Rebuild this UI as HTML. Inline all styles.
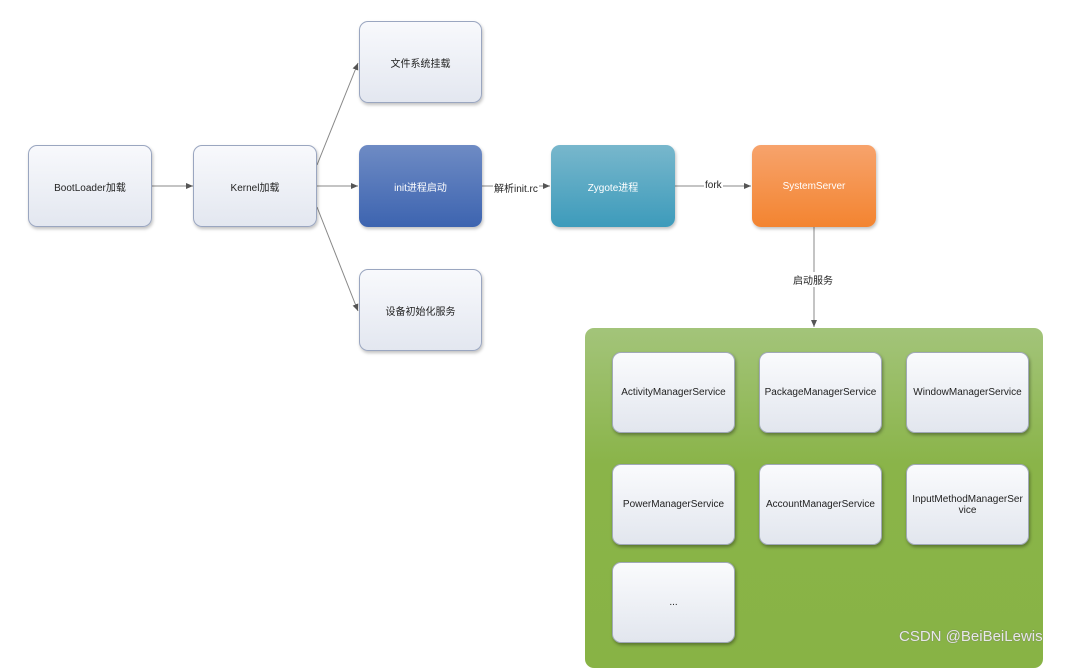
<!DOCTYPE html>
<html><head><meta charset="utf-8"><style>
body{margin:0;width:1068px;height:654px;background:#fff;position:relative;overflow:hidden;font-family:"Liberation Sans","Noto Sans CJK SC",sans-serif;font-size:10px;color:#222}
.b{position:absolute;box-sizing:border-box;border-radius:9px;display:flex;align-items:center;justify-content:center;text-align:center;box-shadow:1px 2px 3px rgba(0,0,0,.25)}
.w{background:linear-gradient(#f8f9fc,#e3e7f0);border:1px solid #9aa6c0}
.s{background:linear-gradient(#fafbfd,#e2e6ee);border:1px solid #a0a8b8;width:123px;height:81px;box-shadow:1px 2px 3px rgba(0,0,0,.35)}
.t{position:absolute;font-size:10px;background:#fff;padding:0 1px}
</style></head><body>
<svg width="1068" height="654" style="position:absolute;left:0;top:0">
<defs><marker id="a" markerWidth="8" markerHeight="8" refX="7" refY="4" orient="auto" markerUnits="userSpaceOnUse"><path d="M0,1 L7,4 L0,7 z" fill="#555"/></marker></defs>
<g stroke="#888" stroke-width="1" fill="none">
<line x1="152" y1="186" x2="193" y2="186" marker-end="url(#a)"/>
<line x1="317" y1="186" x2="358" y2="186" marker-end="url(#a)"/>
<line x1="317" y1="165" x2="358" y2="63" marker-end="url(#a)"/>
<line x1="317" y1="207" x2="358" y2="311" marker-end="url(#a)"/>
<line x1="482" y1="186" x2="550" y2="186" marker-end="url(#a)"/>
<line x1="675" y1="186" x2="751" y2="186" marker-end="url(#a)"/>
<line x1="814" y1="227" x2="814" y2="327" marker-end="url(#a)"/>
</g></svg>
<div class="b w" style="left:28px;top:145px;width:124px;height:82px">BootLoader加载</div>
<div class="b w" style="left:193px;top:145px;width:124px;height:82px">Kernel加载</div>
<div class="b w" style="left:359px;top:21px;width:123px;height:82px">文件系统挂载</div>
<div class="b w" style="left:359px;top:269px;width:123px;height:82px">设备初始化服务</div>
<div class="b" style="left:359px;top:145px;width:123px;height:82px;background:linear-gradient(#6e8bc4,#3d64b0);color:#fff">init进程启动</div>
<div class="b" style="left:551px;top:145px;width:124px;height:82px;background:linear-gradient(#78b7cc,#3d9bbb);color:#fff">Zygote进程</div>
<div class="b" style="left:752px;top:145px;width:124px;height:82px;background:linear-gradient(#f7a36c,#f38430);color:#fff">SystemServer</div>
<div class="t" style="left:493px;top:180px">解析init.rc</div>
<div class="t" style="left:704px;top:180px">fork</div>
<div class="t" style="left:792px;top:272px">启动服务</div>
<div style="position:absolute;left:585px;top:328px;width:458px;height:340px;border-radius:9px;background:linear-gradient(#a3c47a,#8ab449 40%,#88b345)"></div>
<div class="b s" style="left:612px;top:352px">ActivityManagerService</div>
<div class="b s" style="left:759px;top:352px">PackageManagerService</div>
<div class="b s" style="left:906px;top:352px">WindowManagerService</div>
<div class="b s" style="left:612px;top:464px">PowerManagerService</div>
<div class="b s" style="left:759px;top:464px">AccountManagerService</div>
<div class="b s" style="left:906px;top:464px">InputMethodManagerSer<br>vice</div>
<div class="b s" style="left:612px;top:562px">...</div>
<div style="position:absolute;left:899px;top:628px;font-size:15px;color:#e8e8e8;text-shadow:0 0 1px #666">CSDN @BeiBeiLewis</div>
</body></html>
